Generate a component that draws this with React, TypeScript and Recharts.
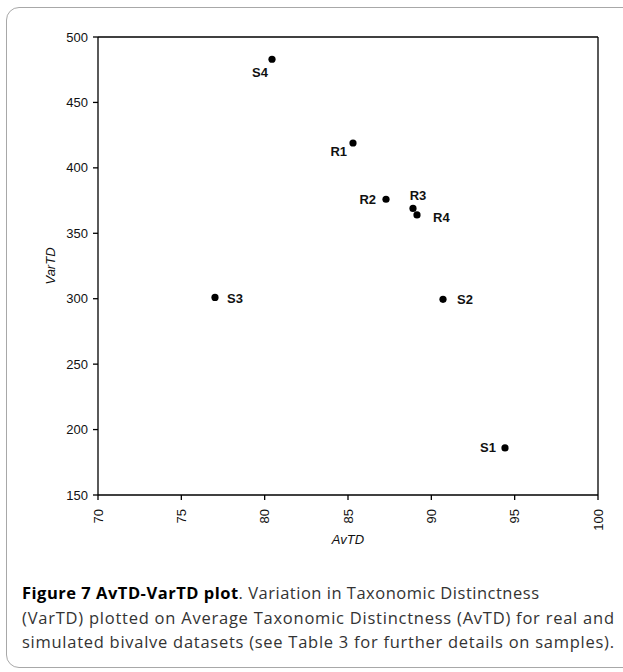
import React from 'react';
import { ScatterChart, Scatter, XAxis, YAxis, ReferenceLine } from 'recharts';

const sampleNames = ['S4', 'R1', 'R2', 'R3', 'R4', 'S3', 'S2', 'S1'];
const avtdValues = [80.44, 85.3, 87.28, 88.9, 89.14, 77.02, 90.7, 94.42];
const vartdValues = [483, 419, 376, 369, 364, 301, 299.5, 186];
const xTicks = [70, 75, 80, 85, 90, 95, 100];
const yTicks = [150, 200, 250, 300, 350, 400, 450, 500];

const points = sampleNames.map((name, i) => ({ name, x: avtdValues[i], y: vartdValues[i] }));

// label placement relative to each point (style, not data)
const labelPlacement: Record<string, { dx: number; dy: number; anchor: 'start' | 'middle' | 'end' }> = {
  S4: { dx: -12, dy: 13, anchor: 'middle' },
  R1: { dx: -6, dy: 9, anchor: 'end' },
  R2: { dx: -10, dy: 0, anchor: 'end' },
  R3: { dx: 5, dy: -13, anchor: 'middle' },
  R4: { dx: 16, dy: 3, anchor: 'start' },
  S3: { dx: 12, dy: 1, anchor: 'start' },
  S2: { dx: 14, dy: 0, anchor: 'start' },
  S1: { dx: -9, dy: 0, anchor: 'end' },
};

const chartFont = "'Liberation Sans', Arial, sans-serif";
const captionFont = "'Open Sans', 'Noto Sans', sans-serif";

const PointShape = (props: any) => {
  const { cx, cy, payload } = props;
  const p = labelPlacement[payload.name];
  return (
    <g>
      <circle cx={cx} cy={cy} r={3.6} fill="#000" />
      <text
        x={cx + p.dx}
        y={cy + p.dy}
        textAnchor={p.anchor}
        dominantBaseline="central"
        fontFamily={chartFont}
        fontWeight="bold"
        fontSize={13}
        fill="#111"
      >
        {payload.name}
      </text>
    </g>
  );
};

const XTick = (props: any) => {
  const { x, y, payload } = props;
  return (
    <g transform={`translate(${x},${y})`}>
      <text
        transform="rotate(-90)"
        x={-7}
        y={0}
        textAnchor="end"
        dominantBaseline="central"
        fontFamily={chartFont}
        fontSize={13}
        fill="#111"
      >
        {payload.value}
      </text>
    </g>
  );
};

export default function App() {
  return (
    <div
      style={{
        position: 'absolute',
        left: 0,
        top: 0,
        width: 623,
        height: 672,
        overflow: 'hidden',
        background: '#fff',
      }}
    >
      <div
        style={{
          position: 'absolute',
          left: 6,
          top: 7,
          width: 660,
          height: 661,
          border: '1.5px solid #a8a8a8',
          borderRadius: 13,
          boxSizing: 'border-box',
        }}
      />
      <div style={{ position: 'absolute', left: 0, top: 0 }}>
        <ScatterChart width={623} height={560} margin={{ top: 37, right: 25, bottom: 20, left: 0 }}>
          <XAxis
            type="number"
            dataKey="x"
            domain={[70, 100]}
            ticks={xTicks}
            interval={0}
            height={45}
            tick={<XTick />}
            tickSize={5}
            axisLine={{ stroke: '#000', strokeWidth: 1.3 }}
            tickLine={{ stroke: '#000', strokeWidth: 1.3 }}
            label={{
              value: 'AvTD',
              position: 'insideBottom',
              offset: -4,
              fontFamily: chartFont,
              fontStyle: 'italic',
              fontSize: 13,
              fill: '#111',
            }}
          />
          <YAxis
            type="number"
            dataKey="y"
            domain={[150, 500]}
            ticks={yTicks}
            interval={0}
            width={98}
            tickSize={5}
            tickMargin={5}
            tick={{ fontFamily: chartFont, fontSize: 13, fill: '#111' }}
            axisLine={{ stroke: '#000', strokeWidth: 1.3 }}
            tickLine={{ stroke: '#000', strokeWidth: 1.3 }}
            label={{
              value: 'VarTD',
              angle: -90,
              position: 'insideLeft',
              offset: 50,
              fontFamily: chartFont,
              fontStyle: 'italic',
              fontSize: 13,
              fill: '#111',
              style: { textAnchor: 'middle' },
            }}
          />
          <ReferenceLine y={500} stroke="#000" strokeWidth={1.3} />
          <ReferenceLine x={100} stroke="#000" strokeWidth={1.3} />
          <Scatter data={points} shape={<PointShape />} isAnimationActive={false} />
        </ScatterChart>
      </div>
      <svg
        width={623}
        height={672}
        style={{ position: 'absolute', left: 0, top: 0, pointerEvents: 'none' }}
      >
        <g fontFamily={captionFont} fontSize={16.5} fill="#333">
          <text x={22} y={599} textLength={517} lengthAdjust="spacing">
            <tspan fontWeight="bold" fill="#000">Figure 7 AvTD-VarTD plot</tspan>
            <tspan>. Variation in Taxonomic Distinctness</tspan>
          </text>
          <text x={22} y={624} textLength={592} lengthAdjust="spacing">
            (VarTD) plotted on Average Taxonomic Distinctness (AvTD) for real and
          </text>
          <text x={22} y={648} textLength={592} lengthAdjust="spacing">
            simulated bivalve datasets (see Table 3 for further details on samples).
          </text>
        </g>
      </svg>
    </div>
  );
}
